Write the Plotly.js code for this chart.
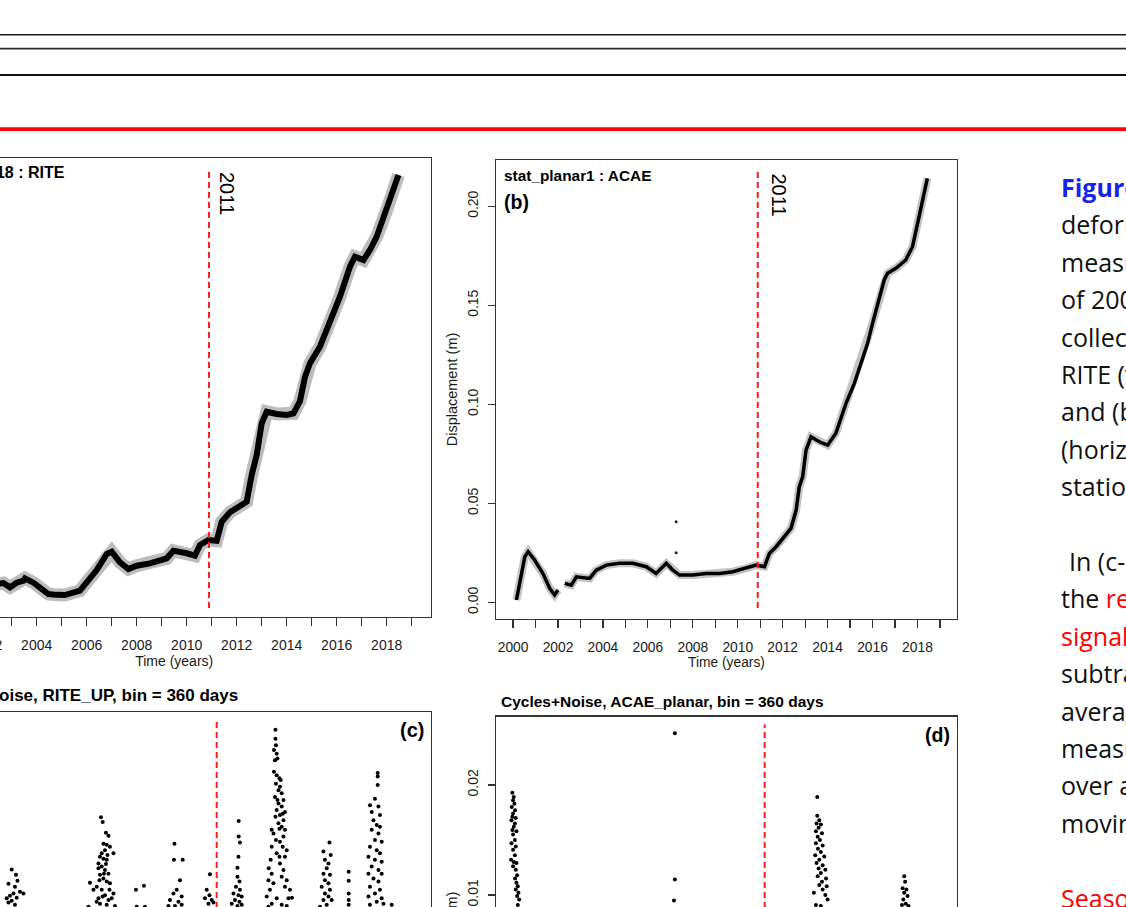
<!DOCTYPE html>
<html>
<head>
<meta charset="utf-8">
<script src="https://cdn.plot.ly/plotly-3.0.1.min.js"></script>
<style>
html,body{margin:0;padding:0;overflow:hidden;width:1126px;height:907px;background:#ffffff;}
#chart{position:absolute;left:-150px;top:0;width:1276px;height:1250px;}
</style>
</head>
<body>
<div id="chart"></div>
<script>
// ---------------- DATA ----------------
// Year axis ticks (every year, labels on even years)
const yearTicks = [2000,2001,2002,2003,2004,2005,2006,2007,2008,2009,2010,2011,2012,2013,2014,2015,2016,2017,2018,2019];
const yearTickText = ['2000','','2002','','2004','','2006','','2008','','2010','','2012','','2014','','2016','','2018',''];

// (a) stat_up18 : RITE  (vertical displacement, m)
const aYears = [2002.30,2002.53,2002.67,2002.93,2003.20,2003.47,2003.53,2003.87,2004.07,2004.47,2004.80,2005.13,2005.73,2006.00,2006.40,2006.80,2007.00,2007.33,2007.67,2008.00,2008.53,2009.20,2009.47,2010.00,2010.33,2010.53,2010.87,2011.20,2011.40,2011.73,2012.13,2012.40,2012.60,2012.80,2013.00,2013.20,2013.60,2014.00,2014.27,2014.53,2014.73,2014.93,2015.33,2015.73,2016.13,2016.53,2016.73,2017.07,2017.33,2017.60,2018.00,2018.27,2018.47];
const aDisp  = [0.0190,0.0202,0.0205,0.0159,0.0209,0.0230,0.0256,0.0209,0.0162,0.0087,0.0078,0.0076,0.0123,0.0219,0.0345,0.0517,0.0542,0.0428,0.0356,0.0391,0.0417,0.0471,0.0553,0.0525,0.0499,0.0614,0.0668,0.0660,0.0865,0.0966,0.1044,0.1080,0.1367,0.1582,0.1923,0.2047,0.2023,0.2012,0.2030,0.2160,0.2420,0.2568,0.2746,0.2998,0.3284,0.3606,0.3714,0.3678,0.3786,0.3929,0.4216,0.4413,0.4592];

// (b) stat_planar1 : ACAE (planar displacement, m)
const bYears = [2000.15,2000.52,2000.67,2000.96,2001.33,2001.63,2001.85,2002.00,null,2002.30,2002.59,2002.82,2003.41,2003.70,2004.15,2004.74,2005.33,2005.93,2006.37,2006.82,2007.11,2007.41,2008.00,2008.60,2009.19,2009.78,2010.37,2010.82,2011.19,2011.41,2011.71,2012.15,2012.37,2012.60,2012.74,2012.89,2013.04,2013.26,2013.63,2014.00,2014.37,2014.67,2014.82,2015.19,2015.48,2015.78,2016.00,2016.30,2016.52,2016.67,2017.04,2017.48,2017.78,2018.07,2018.30,2018.44];
const bDisp  = [0.0012,0.0230,0.0256,0.0214,0.0146,0.0071,0.0037,0.0062,null,0.0096,0.0087,0.0129,0.0121,0.0163,0.0188,0.0197,0.0197,0.0180,0.0146,0.0197,0.0163,0.0138,0.0138,0.0146,0.0146,0.0155,0.0172,0.0188,0.0180,0.0247,0.0281,0.0340,0.0374,0.0466,0.0584,0.0634,0.0769,0.0836,0.0811,0.0794,0.0854,0.0955,0.1005,0.1106,0.1207,0.1308,0.1409,0.1527,0.1628,0.1662,0.1687,0.1729,0.1796,0.1947,0.2066,0.2141];
const bOutlierYears = [2007.26,2007.26];
const bOutlierDisp  = [0.0407,0.0251];

// (c) Cycles+Noise, RITE_UP, bin = 360 days
const cYears = [
 2003.00,2003.17,2003.23,2002.87,2003.13,2003.33,2003.47,2003.07,2002.93,2002.80,2003.20,2003.00,2002.87,2003.13,
 2006.57,2006.64,2006.77,2006.87,2006.67,2006.80,2006.93,2006.73,2007.07,2006.53,2006.67,2006.80,2006.47,2006.60,2006.73,2006.87,2006.53,2006.67,2006.80,2006.93,2006.40,2006.60,2006.13,2006.27,2006.73,2006.47,2006.87,2007.07,2006.53,2006.80,2006.07,2007.13,
 2006.47,2006.77,2006.60,2006.83,2006.69,2006.51,2006.91,2006.64,2006.40,2007.00,
 2007.97,2008.29,2008.00,2008.33,
 2009.51,2009.49,2009.84,2009.73,2009.60,2009.47,2009.80,2009.33,2009.67,2009.53,2009.80,2009.27,
 2010.93,2010.80,2010.91,2010.73,2011.00,2010.87,2011.07,
 2012.08,2012.08,2012.13,2012.07,2012.03,2012.03,2012.11,2011.97,2012.13,2011.87,2012.07,2012.20,2011.93,2012.11,2011.80,2012.03,2012.20,
 2013.55,2013.55,2013.57,2013.49,2013.60,2013.63,2013.53,2013.49,2013.60,2013.71,2013.57,2013.73,2013.67,2013.80,2013.53,2013.87,2013.67,2013.80,2013.60,2013.93,2013.73,2013.87,2013.67,2013.80,2013.40,2013.93,2013.47,2013.87,2013.73,2013.40,2014.00,2013.60,2013.93,2013.36,2013.73,2013.28,2013.87,2013.40,2013.80,2013.27,2014.00,2013.47,2013.93,2013.33,2014.13,2013.20,2013.60,2014.07,2014.21,2013.40,2013.80,2013.27,2014.00,
 2013.76,2013.63,2013.84,2013.55,2013.71,2013.57,2013.84,2013.71,
 2015.71,2015.47,2015.76,2015.53,2015.67,2015.60,2015.47,2015.73,2015.53,2015.67,2015.40,2015.73,2015.53,2015.67,2015.47,2015.80,2015.60,2015.33,
 2016.48,2016.48,2016.48,2016.48,2016.48,
 2017.64,2017.64,2017.64,2017.53,2017.33,2017.67,2017.40,2017.73,2017.47,2017.60,2017.73,2017.40,2017.67,2017.53,2017.80,2017.33,2017.60,2017.73,2017.27,2017.53,2017.80,2017.40,2017.67,2017.27,2017.80,2017.47,2017.67,2017.33,2017.73,2017.53,2017.27,2017.80,2017.60,2017.33,2017.87,2018.20
];
const cValues = [
 0.0351,0.0342,0.0332,0.0327,0.0322,0.0314,0.0311,0.0311,0.0307,0.0303,0.0304,0.0299,0.0296,0.0292,
 0.0438,0.0430,0.0412,0.0407,0.0394,0.0392,0.0389,0.0383,0.0378,0.0372,0.0369,0.0367,0.0361,0.0356,0.0350,0.0344,0.0342,0.0336,0.0331,0.0328,0.0322,0.0317,0.0329,0.0317,0.0308,0.0303,0.0300,0.0311,0.0294,0.0292,0.0289,0.0290,
 0.0353,0.0360,0.0378,0.0375,0.0344,0.0333,0.0317,0.0306,0.0297,0.0303,
 0.0317,0.0324,0.0289,0.0289,
 0.0394,0.0367,0.0367,0.0333,0.0317,0.0311,0.0306,0.0300,0.0297,0.0290,0.0292,0.0290,
 0.0343,0.0317,0.0308,0.0303,0.0300,0.0294,0.0296,
 0.0432,0.0406,0.0396,0.0372,0.0354,0.0339,0.0331,0.0322,0.0317,0.0311,0.0308,0.0306,0.0300,0.0297,0.0294,0.0290,0.0292,
 0.0584,0.0569,0.0558,0.0550,0.0544,0.0536,0.0533,0.0514,0.0508,0.0503,0.0494,0.0489,0.0483,0.0478,0.0472,0.0467,0.0461,0.0456,0.0450,0.0447,0.0442,0.0433,0.0428,0.0422,0.0417,0.0417,0.0411,0.0406,0.0397,0.0389,0.0383,0.0378,0.0372,0.0367,0.0361,0.0353,0.0350,0.0344,0.0339,0.0333,0.0333,0.0328,0.0322,0.0317,0.0317,0.0306,0.0303,0.0303,0.0304,0.0294,0.0292,0.0289,0.0290,
 0.0500,0.0467,0.0444,0.0439,0.0419,0.0400,0.0389,0.0372,
 0.0396,0.0381,0.0375,0.0367,0.0361,0.0353,0.0344,0.0342,0.0333,0.0328,0.0322,0.0317,0.0311,0.0306,0.0300,0.0300,0.0292,0.0289,
 0.0347,0.0332,0.0311,0.0300,0.0292,
 0.0512,0.0506,0.0492,0.0469,0.0458,0.0456,0.0447,0.0442,0.0433,0.0425,0.0422,0.0417,0.0411,0.0400,0.0397,0.0389,0.0383,0.0378,0.0372,0.0367,0.0364,0.0356,0.0350,0.0344,0.0344,0.0336,0.0331,0.0322,0.0317,0.0311,0.0306,0.0303,0.0297,0.0292,0.0294,0.0292
];

// (d) Cycles+Noise, ACAE_planar, bin = 360 days
const dYears = [
 1999.97,2000.03,2000.00,2000.06,1999.94,2000.09,2000.00,1999.97,2000.12,1999.93,2000.08,2000.03,1999.97,2000.15,2000.00,2000.08,1999.93,2000.12,2000.00,2000.08,1999.91,2000.03,2000.15,2000.00,2000.12,2000.18,2000.09,2000.15,2000.21,2000.12,2000.24,2000.18,2000.27,2000.21,
 2007.20,2007.20,2007.16,
 2013.54,2013.54,2013.63,2013.51,2013.70,2013.60,2013.48,2013.75,2013.56,2013.66,2013.48,2013.78,2013.57,2013.70,2013.45,2013.85,2013.63,2013.51,2013.78,2013.60,2013.90,2013.70,2013.56,2013.93,2013.75,2013.63,2013.96,2013.78,2013.39,2013.90,2014.00,2013.48,2013.70,
 2017.41,2017.45,2017.34,2017.51,2017.41,2017.56,2017.37,2017.48,2017.60,2017.31
];
const dValues = [
 0.0193,0.0189,0.0186,0.0183,0.0180,0.0177,0.0174,0.0171,0.0170,0.0168,0.0165,0.0162,0.0159,0.0158,0.0155,0.0150,0.0147,0.0144,0.0141,0.0136,0.0132,0.0130,0.0129,0.0126,0.0123,0.0118,0.0115,0.0111,0.0108,0.0105,0.0102,0.0099,0.0096,0.0091,
 0.0247,0.0114,0.0095,
 0.0189,0.0172,0.0168,0.0165,0.0164,0.0161,0.0158,0.0156,0.0153,0.0150,0.0147,0.0145,0.0142,0.0139,0.0136,0.0135,0.0132,0.0129,0.0127,0.0124,0.0123,0.0120,0.0117,0.0115,0.0112,0.0109,0.0108,0.0105,0.0102,0.0100,0.0096,0.0091,0.0090,
 0.0117,0.0112,0.0106,0.0105,0.0102,0.0099,0.0096,0.0092,0.0090,0.0091
];

// Reference event (dashed red lines)
const eventYear = 2010.89;
const eventYearBinned = 2011.2;
const aEventSpan = [-0.0063, 0.4668];
const bEventSpan = [-0.0029, 0.2193];
const cEventSpan = [-0.0130, 0.0598];
const dEventSpan = [-0.0130, 0.0255];

// Slide text (right column)
const slideLines = [
 '<b><span style="color:#1424e8">Figure 3</span></b>: Ground',
 'deformation time series',
 'measured over the period',
 'of 2000-2018 from data',
 'collected at the GPS stations',
 'RITE (vertical, panel a)',
 'and (b) ACAE planar',
 '(horizontal component)',
 'stations.',
 '',
 'In (c-d) we show',
 'the <span style="color:#ff0000">residual cyclic</span>',
 '<span style="color:#ff0000">signal</span> obtained by',
 'subtracting the moving',
 'average from the',
 'measured displacements',
 'over a 360-day',
 'moving window.',
 '',
 '<span style="color:#ff0000">Seasonal cycles</span>'
];

// ---------------- LAYOUT HELPERS (page pixels -> paper fractions) ----------------
const OFF = 150, W = 1276, H = 1250;
const fx = p => (p + OFF) / W;
const fy = p => 1 - p / H;

const RF = 'Liberation Sans, Arial, Helvetica, sans-serif';
const INK = '#1a1a1a';

function xAxis(dom, anchor, fs, showTitle) {
  return {
    domain: dom, anchor: anchor, range: [1999.24, 2019.76],
    tickmode: 'array', tickvals: yearTicks, ticktext: yearTickText,
    ticks: 'outside', ticklen: 8, tickwidth: 1.2, tickcolor: '#333',
    ticklabelstandoff: 7,
    showline: true, mirror: true, linecolor: '#333', linewidth: 1.4,
    showgrid: false, zeroline: false,
    tickfont: {family: RF, size: fs, color: INK},
    title: {text: showTitle ? 'Time (years)' : '', font: {family: RF, size: fs, color: INK}, standoff: 3}
  };
}
function yAxis(dom, anchor, range, vals, txt, fs) {
  return {
    domain: dom, anchor: anchor, range: range,
    tickmode: 'array', tickvals: vals, ticktext: txt, tickangle: -90,
    ticks: 'outside', ticklen: 7, tickwidth: 1.2, tickcolor: '#333',
    ticklabelstandoff: 4,
    showline: true, mirror: true, linecolor: '#333', linewidth: 1.4,
    showgrid: false, zeroline: false,
    tickfont: {family: RF, size: fs, color: INK},
    title: {text: 'Displacement (m)', font: {family: RF, size: fs + 0.5, color: INK}, standoff: 4}
  };
}

const axA_x = [fx(-82.3), fx(430.7)];
const axB_x = [fx(496), fx(957)];
const axA_y = [fy(617), fy(158)];
const axB_y = [fy(619), fy(160)];
const axC_y = [fy(1170), fy(712.3)];
const axD_y = [fy(1180), fy(716.7)];

const dash = {color: '#ff1a1a', width: 2, dash: '6px,4px'};

const traces = [
  // (a)
  {x: aYears, y: aDisp, xaxis: 'x', yaxis: 'y', mode: 'lines', line: {color: '#bdbdbd', width: 13}},
  {x: aYears, y: aDisp, xaxis: 'x', yaxis: 'y', mode: 'lines', line: {color: '#000', width: 6}},
  {x: [eventYear, eventYear], y: aEventSpan, xaxis: 'x', yaxis: 'y', mode: 'lines', line: dash},
  // (b)
  {x: bYears, y: bDisp, xaxis: 'x2', yaxis: 'y2', mode: 'lines', line: {color: '#c4c4c4', width: 8}, connectgaps: false},
  {x: bYears, y: bDisp, xaxis: 'x2', yaxis: 'y2', mode: 'lines', line: {color: '#000', width: 3.5}, connectgaps: false},
  {x: bOutlierYears, y: bOutlierDisp, xaxis: 'x2', yaxis: 'y2', mode: 'markers', marker: {color: '#222', size: 3}},
  {x: [eventYear, eventYear], y: bEventSpan, xaxis: 'x2', yaxis: 'y2', mode: 'lines', line: dash},
  // (c)
  {x: [eventYearBinned, eventYearBinned], y: cEventSpan, xaxis: 'x3', yaxis: 'y3', mode: 'lines', line: dash},
  {x: cYears, y: cValues, xaxis: 'x3', yaxis: 'y3', mode: 'markers', marker: {color: '#000', size: 4}},
  // (d)
  {x: [eventYearBinned, eventYearBinned], y: dEventSpan, xaxis: 'x4', yaxis: 'y4', mode: 'lines', line: dash},
  {x: dYears, y: dValues, xaxis: 'x4', yaxis: 'y4', mode: 'markers', marker: {color: '#000', size: 4}}
];

const annotations = [];
function ann(o) { annotations.push(Object.assign({xref: 'paper', yref: 'paper', showarrow: false}, o)); }

// panel labels
ann({x: fx(66.5), y: fy(173), xanchor: 'right', yanchor: 'middle', text: '<b>stat_up18 : RITE</b>', font: {family: RF, size: 16, color: '#000'}});
ann({x: fx(-75), y: fy(201), xanchor: 'left', yanchor: 'middle', text: '<b>(a)</b>', font: {family: RF, size: 20, color: '#000'}});
ann({x: fx(501.5), y: fy(175), xanchor: 'left', yanchor: 'middle', text: '<b>stat_planar1 : ACAE</b>', font: {family: RF, size: 15.4, color: '#000'}});
ann({x: fx(501.5), y: fy(201.5), xanchor: 'left', yanchor: 'middle', text: '<b>(b)</b>', font: {family: RF, size: 19.5, color: '#000'}});
ann({x: fx(227.5), y: fy(193.5), xanchor: 'center', yanchor: 'middle', textangle: 90, text: '2011', font: {family: RF, size: 20, color: '#000'}});
ann({x: fx(778), y: fy(194.5), xanchor: 'center', yanchor: 'middle', textangle: 90, text: '2011', font: {family: RF, size: 20, color: '#000'}});
ann({x: fx(239.5), y: fy(695), xanchor: 'right', yanchor: 'middle', text: '<b>Cycles+Noise, RITE_UP, bin = 360 days</b>', font: {family: RF, size: 17, color: '#000'}});
ann({x: fx(426), y: fy(730), xanchor: 'right', yanchor: 'middle', text: '<b>(c)</b>', font: {family: RF, size: 20, color: '#000'}});
ann({x: fx(498.5), y: fy(701.5), xanchor: 'left', yanchor: 'middle', text: '<b>Cycles+Noise, ACAE_planar, bin = 360 days</b>', font: {family: RF, size: 15.5, color: '#000'}});
ann({x: fx(952), y: fy(735), xanchor: 'right', yanchor: 'middle', text: '<b>(d)</b>', font: {family: RF, size: 19.5, color: '#000'}});

// slide text column
slideLines.forEach((t, i) => {
  if (!t) return;
  const left = t.indexOf('In (c-d)') === 0 ? 1066.5 : 1059;
  ann({x: fx(left), y: fy(187 + 37.4 * i), xanchor: 'left', yanchor: 'middle', text: t,
       font: {family: 'Open Sans, Noto Sans, sans-serif', size: 25, color: '#111'}});
});

// slide header rules
const shapes = [
  {type: 'line', xref: 'paper', yref: 'paper', x0: 0, x1: 1, y0: fy(34.8), y1: fy(34.8), line: {color: '#1c1c1c', width: 1.6}},
  {type: 'line', xref: 'paper', yref: 'paper', x0: 0, x1: 1, y0: fy(48.6), y1: fy(48.6), line: {color: '#2a2a2a', width: 1.8}},
  {type: 'line', xref: 'paper', yref: 'paper', x0: 0, x1: 1, y0: fy(75), y1: fy(75), line: {color: '#111', width: 1.8}},
  {type: 'line', xref: 'paper', yref: 'paper', x0: 0, x1: 1, y0: fy(129.2), y1: fy(129.2), line: {color: '#ff0000', width: 3.8}}
];

const layout = {
  width: W, height: H, margin: {l: 0, r: 0, t: 0, b: 0},
  paper_bgcolor: '#ffffff', plot_bgcolor: '#ffffff', showlegend: false,
  xaxis: xAxis(axA_x, 'y', 14, true),
  yaxis: yAxis(axA_y, 'x', [-0.016, 0.4775], [0, 0.1, 0.2, 0.3, 0.4], ['0.0', '0.1', '0.2', '0.3', '0.4'], 14),
  xaxis2: xAxis(axB_x, 'y2', 13.8, true),
  yaxis2: yAxis(axB_y, 'x2', [-0.0084, 0.2234], [0, 0.05, 0.10, 0.15, 0.20], ['0.00', '0.05', '0.10', '0.15', '0.20'], 14),
  xaxis3: xAxis(axA_x, 'y3', 14, true),
  yaxis3: yAxis(axC_y, 'x3', [-0.0150, 0.0613], [0, 0.02, 0.04, 0.06], ['0.00', '0.02', '0.04', '0.06'], 14),
  xaxis4: xAxis(axB_x, 'y4', 13.8, true),
  yaxis4: yAxis(axD_y, 'x4', [-0.0159, 0.0262], [-0.01, 0, 0.01, 0.02], ['-0.01', '0.00', '0.01', '0.02'], 14),
  annotations: annotations,
  shapes: shapes
};

Plotly.newPlot('chart', traces, layout, {staticPlot: true, displayModeBar: false});
</script>
</body>
</html>
